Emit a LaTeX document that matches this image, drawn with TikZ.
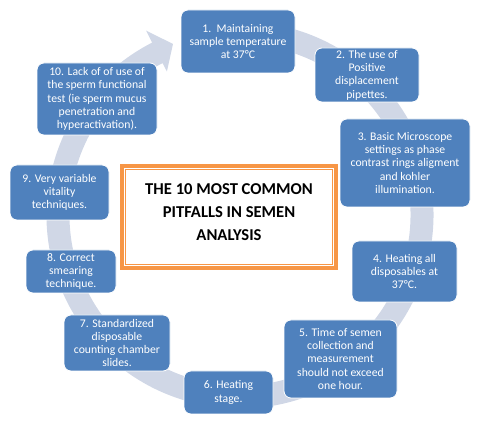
\documentclass[tikz,border=0pt]{standalone}
\usepackage{fontspec}
\setmainfont{Carlito}
\definecolor{boxblue}{HTML}{4F81BD}
\definecolor{bandcol}{HTML}{D0D7E6}
\definecolor{orangec}{HTML}{F79646}
\begin{document}
\begin{tikzpicture}[x=1pt,y=1pt,
  box/.style={draw=white, line width=0.8pt, fill=boxblue, rounded corners=7pt,
    text=white, align=center, font=\fontsize{11.7}{13.3}\selectfont, inner sep=0pt},
  titlefont/.style={font=\fontsize{16.6}{23.3}\selectfont\bfseries, align=center, text=black}
]
\useasboundingbox (0,0) rectangle (480,425);
% circular arrow band
\fill[bandcol, shift={(240,210)}]
  (80:193.5) arc[start angle=80, end angle=-243, radius=193.5]
  -- (-243:207) -- (-248.6:183.7) -- (-243:161) -- (-243:170.5)
  arc[start angle=-243, end angle=80, radius=170.5] -- cycle;
% boxes
\node[box, minimum width=114pt, minimum height=63pt] (n1) at (238,383.5)
  {1.\ \ Maintaining\\sample temperature\\at 37°C};
\node[box, minimum width=104pt, minimum height=54pt] (n2) at (367,350)
  {2. The use of\\Positive\\displacement\\pipettes.};
\node[box, minimum width=130pt, minimum height=88pt] (n3) at (405,262)
  {3. Basic Microscope\\settings as phase\\contrast rings aligment\\and kohler\\illumination.};
\node[box, minimum width=105pt, minimum height=61pt] (n4) at (404.5,153.5)
  {4. Heating all\\disposables at\\37°C.};
\node[box, minimum width=113pt, minimum height=78pt] (n5) at (340.5,66)
  {5. Time of semen\\collection and\\measurement\\should not exceed\\one hour.};
\node[box, minimum width=89pt, minimum height=43pt] (n6) at (228.5,32.5)
  {6. Heating\\stage.};
\node[box, minimum width=106pt, minimum height=56pt] (n7) at (117,82)
  {7. Standardized\\disposable\\counting chamber\\slides.};
\node[box, minimum width=90pt, minimum height=43pt] (n8) at (71,153.5)
  {8. Correct\\smearing\\technique.};
\node[box, minimum width=99pt, minimum height=55pt] (n9) at (59.5,232.5)
  {9. Very variable\\vitality\\techniques.};
\node[box, minimum width=120pt, minimum height=72pt] (n10) at (97,326)
  {10. Lack of of use of\\the sperm functional\\test (ie sperm mucus\\penetration and\\hyperactivation).};
% central box
\node[draw=orangec, fill=white, line width=4pt, minimum width=214pt, minimum height=102pt,
  inner sep=0pt, outer sep=0pt] (cbox) at (229,208) {};
\draw[orangec, line width=1.2pt] ([shift={(3.8,3.8)}]cbox.south west)
  rectangle ([shift={(-3.8,-3.8)}]cbox.north east);
\node[titlefont] (title) at (229,213) {THE 10 MOST COMMON\\PITFALLS IN SEMEN\\ANALYSIS};
\end{tikzpicture}
\end{document}
